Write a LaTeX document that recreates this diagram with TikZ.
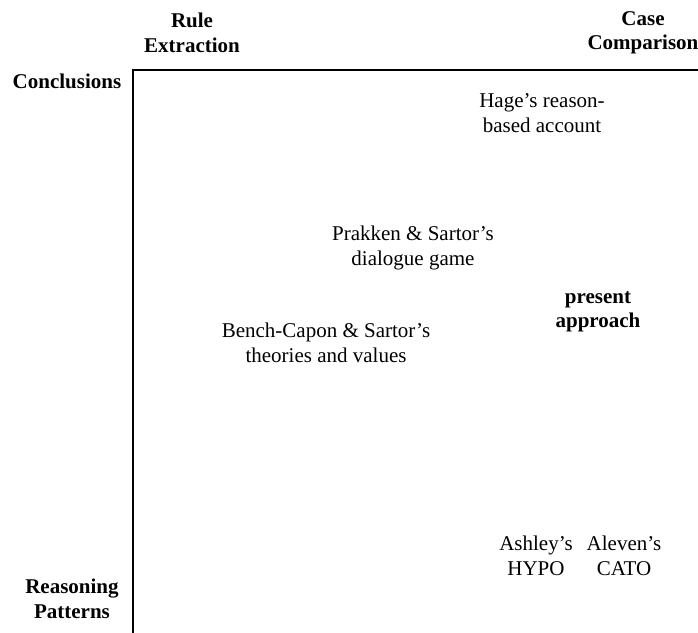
\documentclass[tikz,border=0pt]{standalone}
\usepackage{fontspec}
\setmainfont{Liberation Serif}
\begin{document}
\begin{tikzpicture}[x=1pt,y=-1pt,
  lbl/.style={align=center,inner sep=0pt,font=\fontsize{21}{24.5}\selectfont},
  blbl/.style={lbl,font=\fontsize{21}{24.5}\selectfont\bfseries},
  axis/.style={line width=2.2pt,line cap=rect}]
\useasboundingbox (0,0) rectangle (698,632);
\coordinate (origin) at (133,70);
\coordinate (xend) at (700,70);
\coordinate (yend) at (133,634);
\draw[axis] (xend) -- (origin) -- (yend);
\node[blbl] (rule) at (192,33) {Rule\\Extraction};
\node[blbl] (case) at (643,33) {Case\\Comparison};
\node[blbl] (concl) at (67,81) {Conclusions};
\node[blbl] (reas) at (72,599) {Reasoning\\Patterns};
\node[lbl] (hage) at (542,113) {Hage’s reason-\\based account};
\node[lbl] (prakken) at (413,248) {Prakken \& Sartor’s\\dialogue game};
\node[blbl] (present) at (598,312) {present\\approach};
\node[lbl] (bench) at (326,343) {Bench-Capon \& Sartor’s\\theories and values};
\node[lbl] (ashley) at (536,556) {Ashley’s\\HYPO};
\node[lbl] (aleven) at (624,556) {Aleven’s\\CATO};
\end{tikzpicture}
\end{document}
